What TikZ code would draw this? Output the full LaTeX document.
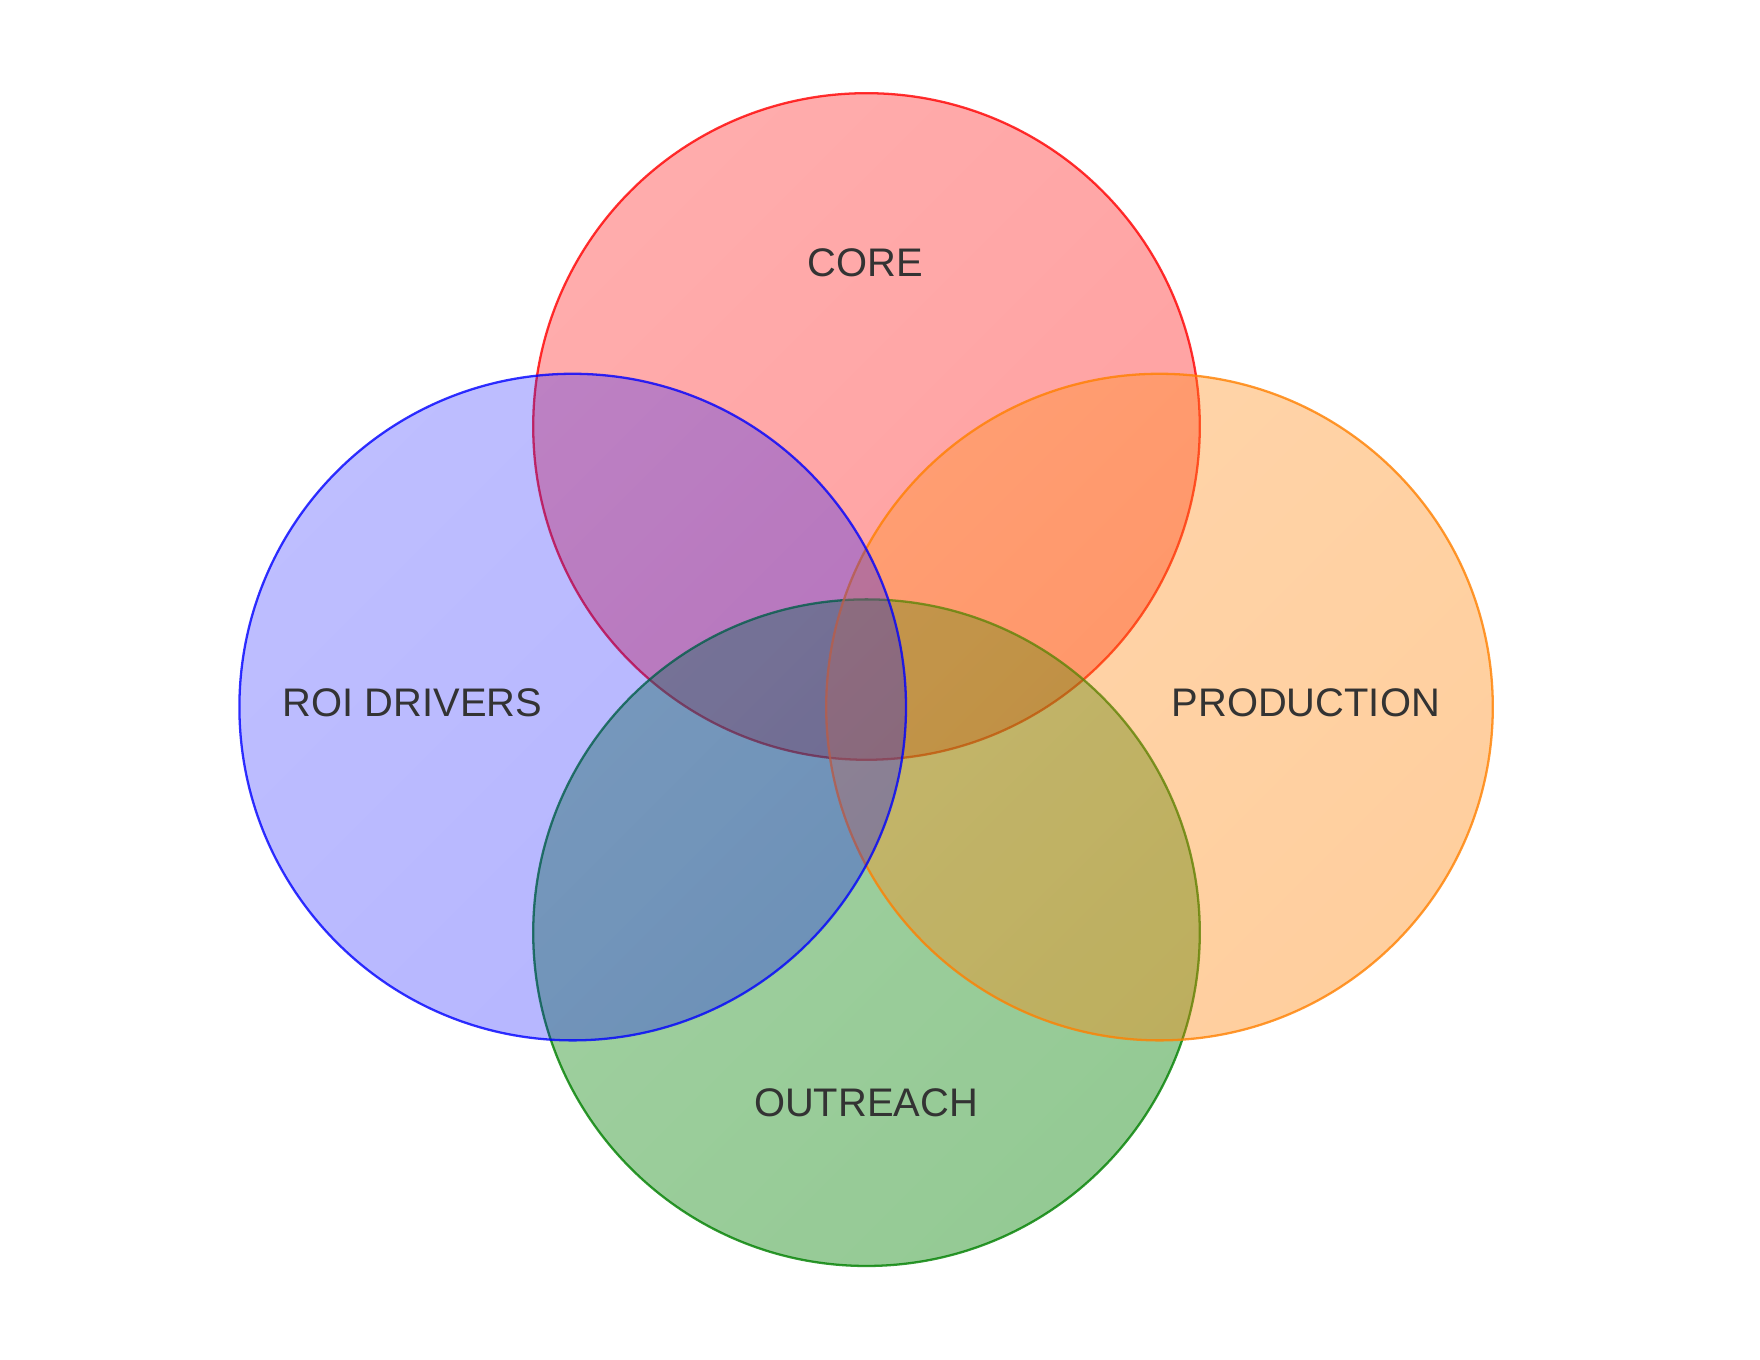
\documentclass[tikz,border=0pt]{standalone}
\usepackage{fontspec}
\setmainfont{Liberation Sans}
\definecolor{coreRed}{RGB}{255,0,0}
\definecolor{prodOrange}{RGB}{255,128,0}
\definecolor{outGreen}{RGB}{0,128,0}
\definecolor{roiBlue}{RGB}{0,0,255}
\definecolor{labelGray}{RGB}{51,51,51}
\tikzset{
  venn/.style 2 args={draw=#1, draw opacity=0.8, line width=0.65pt,
    top color=#1!88!white, bottom color=#1, shading angle=45, fill opacity=#2},
  vennlabel/.style={text=labelGray, font=\fontsize{11.35}{13.6}\selectfont, inner sep=0pt}
}
\begin{document}
\begin{tikzpicture}
  \useasboundingbox (0,0) rectangle (17.6,13.6);
  \coordinate (coreC) at (8.665, 9.335);
  \coordinate (roiC) at (5.727, 6.529);
  \coordinate (prodC) at (11.595, 6.529);
  \coordinate (outC) at (8.665, 4.273);
  \draw[venn={coreRed}{0.37}] (coreC) circle (3.333);
  \draw[venn={outGreen}{0.42}] (outC) circle (3.333);
  \draw[venn={prodOrange}{0.38}] (prodC) circle (3.333);
  \draw[venn={roiBlue}{0.29}] (roiC) circle (3.333);
  \node[vennlabel] (core) at (8.655, 10.975) {CORE};
  \node[vennlabel] (roi) at (4.125, 6.575) {ROI DRIVERS};
  \node[vennlabel] (prod) at (13.058, 6.575) {PRODUCTION};
  \node[vennlabel] (out) at (8.66, 2.575) {OUTREACH};
\end{tikzpicture}
\end{document}
